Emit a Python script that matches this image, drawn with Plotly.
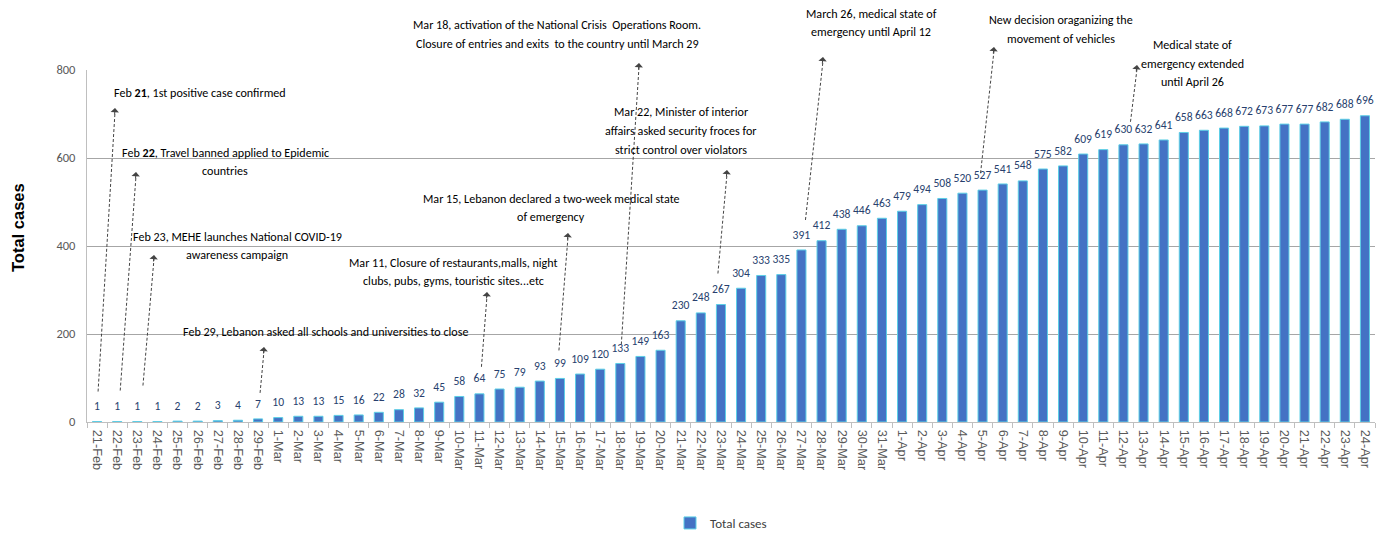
import plotly.graph_objects as go

# ---------------- data ----------------
dates = [
    "21-Feb", "22-Feb", "23-Feb", "24-Feb", "25-Feb", "26-Feb", "27-Feb", "28-Feb", "29-Feb",
    "1-Mar", "2-Mar", "3-Mar", "4-Mar", "5-Mar", "6-Mar", "7-Mar", "8-Mar", "9-Mar", "10-Mar",
    "11-Mar", "12-Mar", "13-Mar", "14-Mar", "15-Mar", "16-Mar", "17-Mar", "18-Mar", "19-Mar",
    "20-Mar", "21-Mar", "22-Mar", "23-Mar", "24-Mar", "25-Mar", "26-Mar", "27-Mar", "28-Mar",
    "29-Mar", "30-Mar", "31-Mar",
    "1-Apr", "2-Apr", "3-Apr", "4-Apr", "5-Apr", "6-Apr", "7-Apr", "8-Apr", "9-Apr", "10-Apr",
    "11-Apr", "12-Apr", "13-Apr", "14-Apr", "15-Apr", "16-Apr", "17-Apr", "18-Apr", "19-Apr",
    "20-Apr", "21-Apr", "22-Apr", "23-Apr", "24-Apr",
]
total_cases = [
    1, 1, 1, 1, 2, 2, 3, 4, 7,
    10, 13, 13, 15, 16, 22, 28, 32, 45, 58,
    64, 75, 79, 93, 99, 109, 120, 133, 149,
    163, 230, 248, 267, 304, 333, 335, 391, 412,
    438, 446, 463,
    479, 494, 508, 520, 527, 541, 548, 575, 582, 609,
    619, 630, 632, 641, 658, 663, 668, 672, 673,
    677, 677, 682, 688, 696,
]
y_ticks = [0, 200, 400, 600, 800]
series_name = "Total cases"

# event annotations (lines of text) and the bar each arrow starts from
event_texts = [
    ["Feb <b>21</b>, 1st positive case confirmed"],
    ["Feb <b>22</b>, Travel banned applied to Epidemic", "countries"],
    ["Feb 23, MEHE launches National COVID-19", "awareness campaign"],
    ["Feb 29, Lebanon asked all schools and universities to close"],
    ["Mar 11, Closure of restaurants,malls, night", "clubs, pubs, gyms, touristic sites...etc"],
    ["Mar 15, Lebanon declared a two-week medical state", "of emergency"],
    ["Mar 18, activation of the National Crisis  Operations Room.",
     "Closure of entries and exits  to the country until March 29"],
    ["Mar 22, Minister of interior", "affairs asked security froces for", "strict control over violators"],
    ["March 26, medical state of", "emergency until April 12"],
    ["New decision oraganizing the", "movement of vehicles"],
    ["Medical state of", "emergency extended", "until April 26"],
]
event_bars = ["21-Feb", "22-Feb", "23-Feb", "29-Feb", "11-Mar", "15-Mar",
              "18-Mar", "23-Mar", "27-Mar", "5-Apr", "12-Apr"]

# ---------------- layout geometry ----------------
W_FIG, H_FIG = 1385, 537
M_L, M_R, M_T, M_B = 87, 10, 70, 115
PW = W_FIG - M_L - M_R
PH = H_FIG - M_T - M_B
Y_MAX = 800
N = len(dates)


def px_to_paper_x(px):
    return (px - M_L) / PW


def px_to_paper_y(py):
    return (M_T + PH - py) / PH


def idx_to_px(i):
    return M_L + (i + 0.5) * PW / N


def val_to_py(v):
    return M_T + PH - v * PH / Y_MAX


# positions of annotation elements (pixels): anchor, x, y of first line
text_pos = [("left", 112, 92), ("center", 225, 152), ("center", 237, 236), ("center", 325, 331),
            ("center", 453, 262), ("center", 551, 198), ("center", 557, 25), ("center", 681, 112),
            ("center", 871, 13), ("center", 1061, 20), ("center", 1192, 45)]
LINE_STEP = 18.5
head_pos = [(115, 108), (136, 172), (154, 255), (264, 347), (487, 292), (568, 233),
            (639, 63), (727, 170), (823, 57), (994, 47), (1137, 65)]
tail_dx = [0.05, 0.15, 0.28, 0.1, 0.1, -0.05, 0.05, -0.15, 0.2, -0.1, 0.35]
tail_gap = [30, 31, 36, 26, 27, 28, 19, 31, 30, 17, 23]

CAL = "Carlito, Liberation Sans, sans-serif"
SANS = "Liberation Sans, Arial, sans-serif"
BAR_COLOR = "#4472C4"

fig = go.Figure()
fig.add_trace(go.Bar(
    x=dates, y=total_cases, name=series_name,
    marker=dict(color=BAR_COLOR, line=dict(color="#5CCFE6", width=1)),
    hoverinfo="x+y",
))
fig.add_trace(go.Scatter(
    x=dates, y=total_cases, mode="markers+text",
    text=[str(v) for v in total_cases], textposition="top center",
    textfont=dict(family=CAL, size=11.6, color="#283F6E"),
    marker=dict(size=12, opacity=0),
    showlegend=False, hoverinfo="skip", cliponaxis=False,
))

shapes = []
annotations = []
for k, lines in enumerate(event_texts):
    anchor, tx, ty = text_pos[k]
    for j, line in enumerate(lines):
        annotations.append(dict(
            x=px_to_paper_x(tx), y=px_to_paper_y(ty + j * LINE_STEP), xref="paper", yref="paper",
            text=line, showarrow=False, xanchor=anchor, yanchor="middle", align="center",
            font=dict(family=CAL, size=12.1, color="#000000"),
        ))
    i = dates.index(event_bars[k])
    v = total_cases[i]
    tpx = idx_to_px(i + tail_dx[k])
    tpy = val_to_py(v) - tail_gap[k]
    hx, hy = head_pos[k]
    shapes.append(dict(
        type="line", xref="paper", yref="paper",
        x0=px_to_paper_x(tpx), y0=px_to_paper_y(tpy),
        x1=px_to_paper_x(hx), y1=px_to_paper_y(hy + 4),
        line=dict(color="#444444", width=1, dash="3px,2px"),
    ))
    dx, dy = tpx - hx, tpy - hy
    L = (dx * dx + dy * dy) ** 0.5
    annotations.append(dict(
        x=px_to_paper_x(hx), y=px_to_paper_y(hy), xref="paper", yref="paper",
        text="", showarrow=True, arrowhead=1, arrowsize=1.4, arrowwidth=1,
        arrowcolor="#444444", ax=dx / L * 8, ay=dy / L * 8, axref="pixel", ayref="pixel",
    ))

annotations.append(dict(
    x=px_to_paper_x(18), y=px_to_paper_y(228), xref="paper", yref="paper",
    text="<b>Total cases</b>", textangle=-90, showarrow=False,
    xanchor="center", yanchor="middle",
    font=dict(family=SANS, size=16.5, color="#000000"),
))

fig.update_layout(
    width=W_FIG, height=H_FIG,
    margin=dict(l=M_L, r=M_R, t=M_T, b=M_B, pad=0, autoexpand=False),
    paper_bgcolor="white", plot_bgcolor="white",
    bargap=0.55,
    showlegend=True,
    legend=dict(orientation="h", x=px_to_paper_x(670), xanchor="left",
                y=px_to_paper_y(523), yanchor="middle",
                font=dict(family=CAL, size=13, color="#404040"),
                itemwidth=30),
    shapes=shapes,
    annotations=annotations,
)
fig.update_xaxes(
    type="category", range=[-0.5, N - 0.5], tickangle=90, automargin=False,
    tickfont=dict(family=SANS, size=12.8, color="#595959"),
    showline=True, linecolor="#BFBFBF", linewidth=1.2,
    ticks="outside", tickson="boundaries", ticklen=5, tickcolor="#BFBFBF",
    ticklabelstandoff=4,
    showgrid=False, fixedrange=True,
)
fig.update_yaxes(
    range=[0, Y_MAX], tickvals=y_ticks, ticktext=[str(t) for t in y_ticks], automargin=False,
    tickfont=dict(family=CAL, size=12.5, color="#595959"),
    showgrid=True, gridcolor="#A6A6A6", gridwidth=1.4,
    showline=True, linecolor="#BFBFBF", linewidth=1.2,
    zeroline=False, ticks="", ticklabelstandoff=8, fixedrange=True,
)

fig.write_html("out.html", config={"displayModeBar": False},
               post_script="document.body.style.margin='0px';")
